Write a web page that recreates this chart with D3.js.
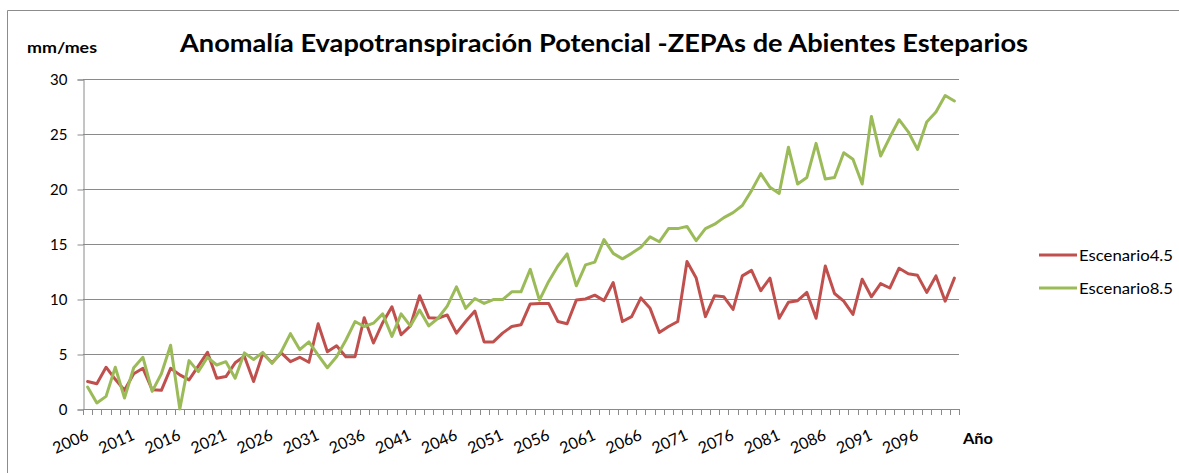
<!DOCTYPE html>
<html>
<head>
<meta charset="utf-8">
<script src="https://cdn.jsdelivr.net/npm/d3@7"></script>
<style>
  html, body { margin: 0; padding: 0; background: #fff; }
  svg { display: block; }
  text { font-family: Lato, "Open Sans", "Liberation Sans", sans-serif; fill: #000; }
</style>
</head>
<body>
<svg id="chart" width="1179" height="473"></svg>
<script>
// ---- data ----
const years = d3.range(2006, 2101);
const tickYears = [2006, 2011, 2016, 2021, 2026, 2031, 2036, 2041, 2046, 2051, 2056, 2061, 2066, 2071, 2076, 2081, 2086, 2091, 2096];
const yTicks = [0, 5, 10, 15, 20, 25, 30];
const seriesNames = ["Escenario4.5", "Escenario8.5"];
const escenario45 = [
  2.5, 2.3, 3.8, 2.7, 1.7, 3.2, 3.7, 1.75, 1.7, 3.7,
  3.1, 2.65, 3.9, 5.15, 2.8, 2.95, 4.2, 4.8, 2.5, 5.05,
  4.2, 5.1, 4.3, 4.7, 4.25, 7.75, 5.2, 5.75, 4.75, 4.75,
  8.3, 6.0, 7.85, 9.3, 6.75, 7.55, 10.3, 8.3, 8.25, 8.55,
  6.9, 7.95, 8.9, 6.1, 6.1, 6.9, 7.5, 7.65, 9.55, 9.6,
  9.6, 7.95, 7.75, 9.9, 10.0, 10.35, 9.85, 11.5, 7.95, 8.4,
  10.1, 9.15, 6.95, 7.5, 7.95, 13.4, 11.9, 8.4, 10.3, 10.2,
  9.05, 12.1, 12.6, 10.75, 11.9, 8.25, 9.7, 9.85, 10.6, 8.25,
  13.0, 10.5, 9.8, 8.6, 11.8, 10.2, 11.4, 11.0, 12.8, 12.3,
  12.15, 10.6, 12.1, 9.8, 11.9
];
const escenario85 = [
  2.0, 0.55, 1.15, 3.8, 1.0, 3.75, 4.7, 1.6, 3.2, 5.8,
  0.0, 4.4, 3.4, 4.7, 4.0, 4.3, 2.8, 5.1, 4.5, 5.15,
  4.15, 5.2, 6.85, 5.4, 6.1, 4.9, 3.75, 4.75, 6.25, 7.95,
  7.5, 7.8, 8.65, 6.6, 8.65, 7.55, 9.0, 7.55, 8.25, 9.35,
  11.1, 9.15, 10.05, 9.6, 9.95, 9.95, 10.65, 10.65, 12.7, 9.9,
  11.6, 13.0, 14.1, 11.2, 13.1, 13.35, 15.4, 14.15, 13.65, 14.15,
  14.7, 15.65, 15.2, 16.4, 16.4, 16.6, 15.3, 16.4, 16.8, 17.4,
  17.85, 18.5, 19.85, 21.4, 20.15, 19.6, 23.8, 20.45, 21.05, 24.15,
  20.9, 21.05, 23.3, 22.7, 20.45, 26.6, 23.0, 24.7, 26.3, 25.2,
  23.6, 26.1, 27.0, 28.5, 28.0
];
const seriesColors = ["#C0504D", "#9BBB59"];

// ---- layout ----
const svg = d3.select("#chart");
const plot = { left: 83, right: 959, top: 79, bottom: 409 };

const x = d3.scaleBand().domain(years).range([plot.left, plot.right]).paddingInner(0).paddingOuter(0);
const y = d3.scaleLinear().domain([0, 30]).range([plot.bottom, plot.top]);
const cx = d => x(d) + x.bandwidth() / 2;

// outer border
svg.append("path")
  .attr("d", `M7.5,${473 + 5} L7.5,10.5 L${1179 + 5},10.5`)
  .attr("fill", "none").attr("stroke", "#8c8c8c").attr("stroke-width", 1);

// gridlines
svg.append("g").selectAll("line").data(yTicks.filter(v => v > 0)).join("line")
  .attr("x1", plot.left).attr("x2", plot.right)
  .attr("y1", d => Math.round(y(d)) + 0.5).attr("y2", d => Math.round(y(d)) + 0.5)
  .attr("stroke", "#8a8a8a").attr("stroke-width", 1);

// y axis
const yAxis = d3.axisLeft(y).tickValues(yTicks).tickSize(6).tickPadding(10);
const gy = svg.append("g").attr("transform", `translate(${plot.left + 0.5},0.5)`).call(yAxis);
gy.select(".domain").attr("stroke", "#8a8a8a");
gy.selectAll(".tick line").attr("stroke", "#8a8a8a");
gy.selectAll(".tick text").attr("font-size", 15).attr("font-family", "Lato").attr("fill", "#000").attr("dy", "0.35em");

// x axis: baseline and category tick marks
const boundaries = years.map(d => x(d)).concat([plot.right]);
svg.append("line")
  .attr("x1", plot.left).attr("x2", plot.right)
  .attr("y1", plot.bottom + 0.5).attr("y2", plot.bottom + 0.5)
  .attr("stroke", "#8a8a8a");
svg.append("g").selectAll("line").data(boundaries).join("line")
  .attr("x1", d => Math.round(d) + 0.5).attr("x2", d => Math.round(d) + 0.5)
  .attr("y1", plot.bottom).attr("y2", plot.bottom + 6)
  .attr("stroke", "#8a8a8a");

// x tick labels (rotated)
svg.append("g").selectAll("text").data(tickYears).join("text")
  .attr("transform", d => `translate(${cx(d) + 2},${plot.bottom + 30}) rotate(-24)`)
  .attr("text-anchor", "end")
  .attr("font-size", 16)
  .text(d => d);

// lines
const line = d3.line().x((d, i) => cx(years[i])).y(d => y(d));
[escenario45, escenario85].forEach((vals, k) => {
  svg.append("path")
    .datum(vals)
    .attr("d", line)
    .attr("fill", "none")
    .attr("stroke", seriesColors[k])
    .attr("stroke-width", 3)
    .attr("stroke-linejoin", "round")
    .attr("stroke-linecap", "round");
});

// title
svg.append("text")
  .attr("x", 180).attr("y", 52)
  .attr("font-size", 25).attr("font-weight", "bold")
  .attr("textLength", 848).attr("lengthAdjust", "spacingAndGlyphs")
  .text("Anomalía Evapotranspiración Potencial -ZEPAs de Abientes Esteparios");

// axis titles
svg.append("text")
  .attr("x", 27).attr("y", 53)
  .attr("font-size", 15).attr("font-weight", "bold")
  .attr("textLength", 70).attr("lengthAdjust", "spacingAndGlyphs")
  .text("mm/mes");
svg.append("text")
  .attr("x", 963).attr("y", 444)
  .attr("font-size", 16).attr("font-weight", "bold")
  .attr("textLength", 30).attr("lengthAdjust", "spacingAndGlyphs")
  .text("Año");

// legend
const legendY = [255, 288];
seriesNames.forEach((name, k) => {
  svg.append("line")
    .attr("x1", 1039).attr("x2", 1077)
    .attr("y1", legendY[k]).attr("y2", legendY[k])
    .attr("stroke", seriesColors[k]).attr("stroke-width", 3);
  svg.append("text")
    .attr("x", 1079).attr("y", legendY[k] + 6)
    .attr("font-size", 16)
    .attr("textLength", 94).attr("lengthAdjust", "spacingAndGlyphs")
    .text(name);
});
</script>
</body>
</html>
